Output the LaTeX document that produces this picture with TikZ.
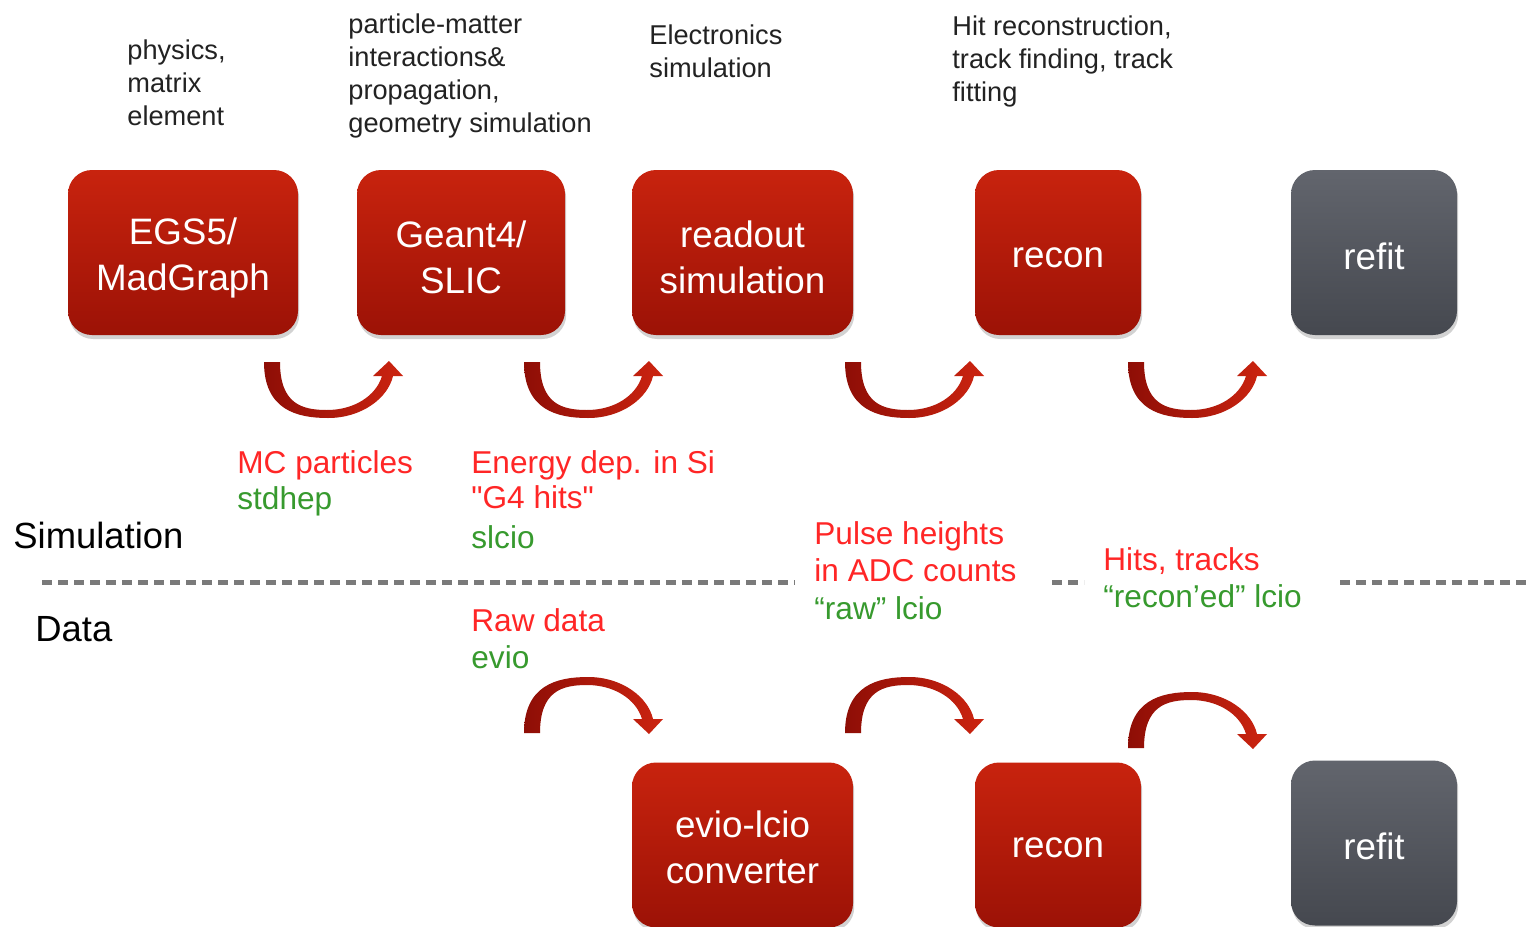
\documentclass[tikz,border=0pt]{standalone}
\usepackage{fontspec}
\setmainfont{Liberation Sans}
\newfontfamily\plainsans{Liberation Sans}[Ligatures=TeXOff]
\usetikzlibrary{shadows}
\definecolor{boxtop}{HTML}{C8230E}
\definecolor{boxbot}{HTML}{9C1206}
\definecolor{graytop}{HTML}{62656D}
\definecolor{graybot}{HTML}{45484F}
\definecolor{arrdark}{HTML}{8E0E06}
\definecolor{arrlight}{HTML}{CC2410}
\definecolor{lblred}{HTML}{FF2626}
\definecolor{lblgreen}{HTML}{379A2E}
\definecolor{annot}{HTML}{222222}
\definecolor{dashgray}{HTML}{7A7A7A}
\begin{document}
\begin{tikzpicture}[x=0.5pt,y=-0.5pt,
  procbox/.style={draw=none, rounded corners=12pt, top color=boxtop, bottom color=boxbot,
    inner sep=0pt, minimum height=82.5pt,
    drop shadow={shadow xshift=0.6pt,shadow yshift=-2pt,opacity=0.35}},
  graybox/.style={procbox, top color=graytop, bottom color=graybot},
  boxlabel/.style={text=white, font=\fontsize{18.4}{23}\selectfont, align=center, inner sep=0pt},
  annottext/.style={anchor=north west, inner sep=0pt, align=left, text=annot,
    font=\fontsize{13.6}{16.5}\selectfont},
  redlbl/.style={anchor=base west, inner sep=0pt, text=lblred, font=\fontsize{15.8}{18.5}\selectfont},
  greenlbl/.style={redlbl, text=lblgreen},
  sidelbl/.style={anchor=base west, inner sep=0pt, text=black, font=\fontsize{18.2}{22}\selectfont},
  divider/.style={draw=dashgray, line width=2.5pt, dash pattern=on 5pt off 3pt},
  uarr/.pic={
    \shade[left color=arrdark, right color=arrlight]
      (-8,0) .. controls (-8,48) and (25,56) .. (56,56)
      .. controls (90,56) and (116,36) .. (121,14)
      -- (131,14) -- (117,-1) -- (101,14) -- (110,14)
      .. controls (104,34) and (82,48) .. (55,48)
      .. controls (30,48) and (8,42) .. (8,0) -- cycle;
  }
]
\fill[white] (0,0) rectangle (1529,926);
\useasboundingbox (0,0) rectangle (1529,926);

% top annotations
\node[annottext] (a1) at (127,39) {physics,\\matrix\\element};
\node[annottext] (a2) at (348,13) {particle-matter\\interactions\&\\propagation,\\geometry simulation};
\node[annottext] (a3) at (649,24) {Electronics\\simulation};
\node[annottext] (a4) at (952,15) {Hit reconstruction,\\track finding, track\\fitting};

% top row boxes
\node[procbox, minimum width=115pt] (egs) at (183,252.5) {};
\node[procbox, minimum width=104pt] (geant) at (461,252.5) {};
\node[procbox, minimum width=110.5pt] (readout) at (742.5,252.5) {};
\node[procbox, minimum width=83pt] (recon) at (1058,252.5) {};
\node[graybox, minimum width=83pt] (refit) at (1374,252.5) {};

% bottom row boxes
\node[procbox, minimum width=110.5pt] (evio) at (742.5,845) {};
\node[procbox, minimum width=83pt] (reconb) at (1058,845) {};
\node[graybox, minimum width=83pt] (refitb) at (1374,843) {};

% box texts
\node[boxlabel] (egs-t) at ([yshift=-2.5pt]egs.center) {EGS5/\\MadGraph};
\node[boxlabel] (geant-t) at ([yshift=-2.5pt]geant.center) {Geant4/\\SLIC};
\node[boxlabel] (readout-t) at ([yshift=-2.5pt]readout.center) {readout\\simulation};
\node[boxlabel] (recon-t) at ([yshift=-2.5pt]recon.center) {recon};
\node[boxlabel] (refit-t) at ([yshift=-2pt]refit.center) {refit};
\node[boxlabel] (evio-t) at ([yshift=-1pt]evio.center) {evio-lcio\\converter};
\node[boxlabel] (reconb-t) at ([yshift=-1.5pt]reconb.center) {recon};
\node[boxlabel] (refitb-t) at ([yshift=-1.5pt]refitb.center) {refit};

% curved arrows
\pic at (272,362) {uarr};
\pic at (532,362) {uarr};
\pic at (853,362) {uarr};
\pic at (1136,362) {uarr};
\pic[yscale=-1] at (532,733) {uarr};
\pic[yscale=-1] at (853,733) {uarr};
\pic[yscale=-1] at (1136,748) {uarr};

% labels
\node[redlbl] (l1a) at (237,473) {MC particles};
\node[greenlbl] (l1b) at (237,509) {stdhep};
\node[redlbl] (l2a) at (471,473) {Energy dep. in Si};
\node[redlbl] (l2b) at (471,508) {\plainsans "G4 hits"};
\node[greenlbl] (l2c) at (471,548) {slcio};
\node[redlbl] (l3a) at (814,544) {Pulse heights};
\node[redlbl] (l3b) at (814,581) {in ADC counts};
\node[greenlbl] (l3c) at (814,619) {“raw” lcio};
\node[redlbl] (l4a) at (1103,570) {Hits, tracks};
\node[greenlbl] (l4b) at (1103,607) {“recon’ed” lcio};
\node[redlbl] (l5a) at (471,631) {Raw data};
\node[greenlbl] (l5b) at (471,668) {evio};

\node[sidelbl] (sim) at (13,548) {Simulation};
\node[sidelbl] (data) at (35,641) {Data};

% divider
\coordinate (d1s) at (42,582);
\coordinate (d1e) at (795,582);
\coordinate (d2s) at (1052,582);
\coordinate (d2e) at (1084,582);
\coordinate (d3s) at (1340,582);
\coordinate (d3e) at (1529,582);
\draw[divider] (d1s) -- (d1e);
\draw[divider] (d2s) -- (d2e);
\draw[divider] (d3s) -- (d3e);
\end{tikzpicture}
\end{document}
